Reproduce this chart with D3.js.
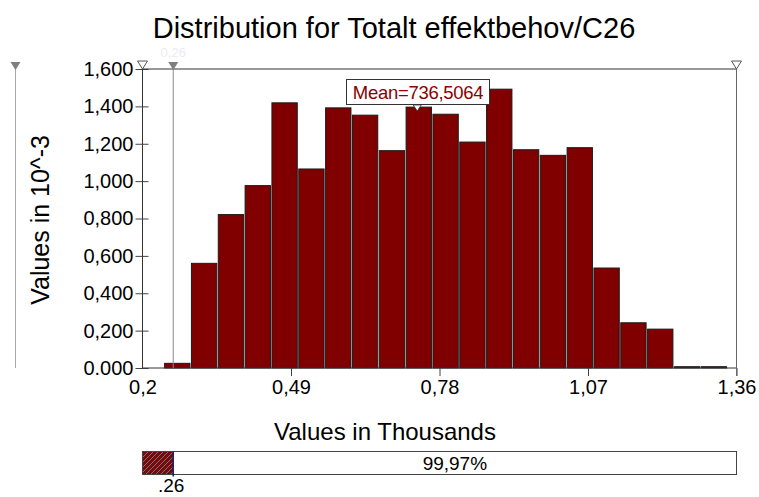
<!DOCTYPE html>
<meta charset="utf-8">
<style>
  body { margin: 0; background: #fff; }
  text { font-family: "Liberation Sans", Arial, sans-serif; }
</style>
<script src="https://d3js.org/d3.v7.min.js"></script>
<div id="my_dataviz"></div>
<script>

// histogram data (values in 10^-3, x in thousands)
var binEdges = [0.2422, 0.2946, 0.3470, 0.3994, 0.4518, 0.5042, 0.5566, 0.6090, 0.6614, 0.7138, 0.7662,
                0.8186, 0.8710, 0.9234, 0.9758, 1.0282, 1.0806, 1.1330, 1.1854, 1.2378, 1.2902, 1.3426];
var counts = [0.025, 0.560, 0.821, 0.976, 1.419, 1.065, 1.392, 1.353, 1.163, 1.396, 1.358,
              1.209, 1.492, 1.168, 1.138, 1.179, 0.535, 0.242, 0.208, 0.007, 0.007];

var xTicks = [0.2, 0.49, 0.78, 1.07, 1.36];
var xTickLabels = ["0,2", "0,49", "0,78", "1,07", "1,36"];
var yTicks = [0, 0.2, 0.4, 0.6, 0.8, 1.0, 1.2, 1.4, 1.6];
var yTickLabels = ["0.000", "0,200", "0,400", "0,600", "0,800", "1,000", "1,200", "1,400", "1,600"];

var meanValue = 0.7365064;
var meanLabel = "Mean=736,5064";
var leftMarker = 0.26;
var leftMarkerLabel = ".26";
var pctRight = "99,97%";

var title = "Distribution for Totalt effektbehov/C26";
var xTitle = "Values in Thousands";
var yTitle = "Values in 10^-3";

var width = 759, height = 497;
var plot = {left: 142.5, right: 736.5, top: 69, bottom: 368};

var svg = d3.select("#my_dataviz")
  .append("svg")
    .attr("width", width)
    .attr("height", height);

var x = d3.scaleLinear().domain([0.2, 1.36]).range([plot.left, plot.right]);
var y = d3.scaleLinear().domain([0, 1.6]).range([plot.bottom, plot.top]);

// hatch pattern for the left part of the bottom bar
var defs = svg.append("defs");
var pat = defs.append("pattern")
    .attr("id", "hatch")
    .attr("patternUnits", "userSpaceOnUse")
    .attr("width", 5).attr("height", 5);
pat.append("rect").attr("width", 5).attr("height", 5).attr("fill", "#7a0a0a");
pat.append("path").attr("d", "M-1,6 L6,-1 M-1,1 L1,-1 M4,6 L6,4")
    .attr("stroke", "#6f8f9a").attr("stroke-width", 0.8);

// title
svg.append("text")
    .attr("x", 394).attr("y", 38)
    .attr("text-anchor", "middle")
    .style("font-size", "29px")
    .text(title);

// faint label above the left marker
svg.append("text")
    .attr("x", x(leftMarker)).attr("y", 57)
    .attr("text-anchor", "middle")
    .style("font-size", "13px")
    .style("fill", "#ebebf3")
    .text("0,26");

// bars
svg.append("g")
  .selectAll("rect")
  .data(counts)
  .enter()
  .append("rect")
    .attr("x", function(d, i) { return x(binEdges[i]) + 0.5; })
    .attr("y", function(d) { return y(d); })
    .attr("width", function(d, i) { return x(binEdges[i + 1]) - x(binEdges[i]) - 1.5; })
    .attr("height", function(d) { return plot.bottom - y(d); })
    .attr("fill", "#800000")
    .attr("stroke", "#1a1a1a")
    .attr("stroke-width", 1);

// y axis
var yAxis = svg.append("g")
    .attr("transform", "translate(" + plot.left + ",0)")
    .call(d3.axisLeft(y).tickValues(yTicks).tickFormat(function(d, i) { return yTickLabels[i]; }).tickSize(7).tickPadding(2));
yAxis.select(".domain").remove();
yAxis.selectAll(".tick line").attr("x1", 6).attr("x2", -7).attr("stroke", "#444");
yAxis.selectAll(".tick text")
    .style("font-family", "'Liberation Sans', Arial, sans-serif")
    .style("font-size", "20px").attr("fill", "#000").attr("x", -9);

// x axis
var xAxis = svg.append("g")
    .attr("transform", "translate(0," + plot.bottom + ")")
    .call(d3.axisBottom(x).tickValues(xTicks).tickFormat(function(d, i) { return xTickLabels[i]; }).tickSize(8).tickPadding(4));
xAxis.select(".domain").remove();
xAxis.selectAll(".tick line").attr("stroke", "#444")
    .filter(function(d) { return d === 0.2; }).remove();
xAxis.selectAll(".tick text")
    .style("font-family", "'Liberation Sans', Arial, sans-serif")
    .style("font-size", "20px").attr("fill", "#000");

// frame
svg.append("line").attr("x1", plot.left).attr("x2", plot.right).attr("y1", plot.top).attr("y2", plot.top).attr("stroke", "#333");
svg.append("line").attr("x1", plot.left).attr("x2", plot.right).attr("y1", plot.bottom).attr("y2", plot.bottom).attr("stroke", "#333");
svg.append("line").attr("x1", plot.left).attr("x2", plot.left).attr("y1", plot.top).attr("y2", plot.bottom).attr("stroke", "#333");
svg.append("line").attr("x1", plot.right).attr("x2", plot.right).attr("y1", plot.top - 6).attr("y2", plot.bottom + 8).attr("stroke", "#666");

// outline triangles at the ends of the range
[0.2, 1.36].forEach(function(v) {
  svg.append("path")
    .attr("d", "M" + (x(v) - 5) + "," + (plot.top - 8) + " L" + (x(v) + 5) + "," + (plot.top - 8) + " L" + x(v) + "," + plot.top + " Z")
    .attr("fill", "#fff").attr("stroke", "#555");
});

// left delimiter marker
svg.append("line")
    .attr("x1", x(leftMarker)).attr("x2", x(leftMarker))
    .attr("y1", plot.top - 2).attr("y2", plot.bottom)
    .attr("stroke", "#8a8a8a");
svg.append("path")
    .attr("d", "M" + (x(leftMarker) - 5) + "," + (plot.top - 7) + " L" + (x(leftMarker) + 5) + "," + (plot.top - 7) + " L" + x(leftMarker) + "," + (plot.top + 1) + " Z")
    .attr("fill", "#7f7f7f");

// y slider on the far left
svg.append("line").attr("x1", 15.5).attr("x2", 15.5).attr("y1", plot.top).attr("y2", plot.bottom).attr("stroke", "#aaa");
svg.append("path").attr("d", "M10.5,62 L20.5,62 L15.5,70 Z").attr("fill", "#7f7f7f");

// mean marker + label
var mx = x(meanValue);
svg.append("rect")
    .attr("x", 346.5).attr("y", 79.5).attr("width", 143).attr("height", 25)
    .attr("fill", "#fff").attr("stroke", "#333");
svg.append("text")
    .attr("x", 418).attr("y", 99)
    .attr("text-anchor", "middle")
    .style("font-size", "18.5px")
    .style("fill", "#8b0000")
    .style("letter-spacing", "-0.3px")
    .text(meanLabel);
svg.append("path")
    .attr("d", "M" + (mx - 4) + "," + 105 + " L" + (mx + 4) + "," + 105 + " L" + mx + "," + 111 + " Z")
    .attr("fill", "#fff").attr("stroke", "#333").attr("stroke-width", 0.8);

// axis titles
svg.append("text")
    .attr("x", 385).attr("y", 440)
    .attr("text-anchor", "middle")
    .style("font-size", "24px")
    .text(xTitle);
svg.append("text")
    .attr("transform", "translate(49,220) rotate(-90)")
    .attr("text-anchor", "middle")
    .style("font-size", "25px")
    .text(yTitle);

// bottom percentage bar
var barY = 451.5, barH = 23;
svg.append("rect")
    .attr("x", plot.left).attr("y", barY).attr("width", x(leftMarker) - plot.left).attr("height", barH)
    .attr("fill", "url(#hatch)");
svg.append("rect")
    .attr("x", plot.left).attr("y", barY).attr("width", plot.right - plot.left).attr("height", barH)
    .attr("fill", "none").attr("stroke", "#444");
svg.append("line")
    .attr("x1", x(leftMarker)).attr("x2", x(leftMarker))
    .attr("y1", barY).attr("y2", barY + barH + 2)
    .attr("stroke", "#1a1a6e").attr("stroke-width", 1.5);
svg.append("text")
    .attr("x", (x(leftMarker) + plot.right) / 2).attr("y", barY + 18)
    .attr("text-anchor", "middle")
    .style("font-size", "19px")
    .text(pctRight);
svg.append("text")
    .attr("x", x(leftMarker) - 2).attr("y", 492)
    .attr("text-anchor", "middle")
    .style("font-size", "19px")
    .text(leftMarkerLabel);

</script>
